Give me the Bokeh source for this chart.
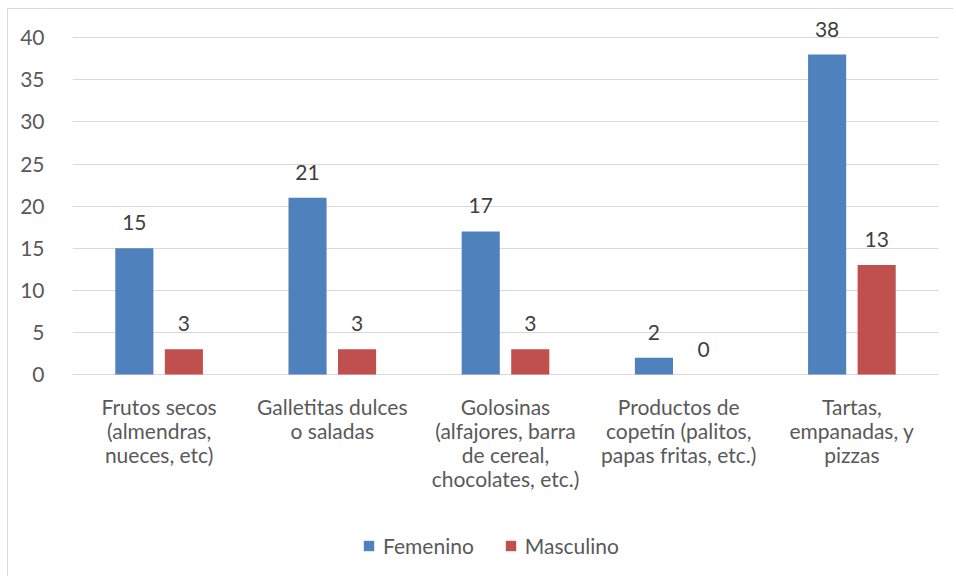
from bokeh.plotting import figure
from bokeh.models import ColumnDataSource, FactorRange, Legend, LegendItem, LabelSet
from bokeh.core.properties import value
from bokeh.transform import dodge
from bokeh.embed import file_html
from bokeh.resources import INLINE

categories = [
    "Frutos secos\n(almendras,\nnueces, etc)",
    "Galletitas dulces\no saladas",
    "Golosinas\n(alfajores, barra\nde cereal,\nchocolates, etc.)",
    "Productos de\ncopetín (palitos,\npapas fritas, etc.)",
    "Tartas,\nempanadas, y\npizzas",
]
femenino = [15, 21, 17, 2, 38]
masculino = [3, 3, 3, 0, 13]
series_names = ["Femenino", "Masculino"]
y_ticks = [0, 5, 10, 15, 20, 25, 30, 35, 40]

FONT = "Lato"
FS = "21px"
BLUE = "#4F81BD"
RED = "#C0504D"
LINE_STEP = 24

src = ColumnDataSource(dict(cat=categories, fem=femenino, mas=masculino,
                            fem_t=[str(v) for v in femenino],
                            mas_t=[str(v) for v in masculino]))

# one row per label line so every line is centred under its category
lc, lt, lo = [], [], []
for c in categories:
    for i, line in enumerate(c.split("\n")):
        lc.append(c)
        lt.append(line)
        lo.append(-19 - LINE_STEP * i)
lines_src = ColumnDataSource(dict(cat=lc, txt=lt, off=lo, zero=[0] * len(lc)))

p = figure(x_range=FactorRange(*categories, range_padding=0), y_range=(-23.04, 43),
           width=946, height=568, output_backend="svg", toolbar_location=None,
           min_border_left=64, min_border_right=16, min_border_top=3, min_border_bottom=9)
p.styles = {"margin-left": "7px", "margin-top": "8px",
            "border-left": "1px solid #d9d9d9", "border-top": "1px solid #d9d9d9"}
p.outline_line_color = None

r1 = p.vbar(x=dodge("cat", -0.143, range=p.x_range), top="fem", width=0.22, source=src,
            fill_color=BLUE, line_color=None)
r2 = p.vbar(x=dodge("cat", 0.143, range=p.x_range), top="mas", width=0.22, source=src,
            fill_color=RED, line_color=None)

for col, off in (("fem", -0.143), ("mas", 0.143)):
    p.add_layout(LabelSet(x=dodge("cat", off, range=p.x_range), y=col, text=col + "_t",
                          source=src, y_offset=18, text_align="center",
                          text_baseline="bottom", text_font=value(FONT), text_font_size=FS,
                          text_color="#404040"))

p.add_layout(LabelSet(x="cat", y="zero", text="txt", source=lines_src, y_offset="off",
                      text_align="center", text_baseline="top",
                      text_font=value(FONT), text_font_size=FS, text_color="#595959"))

p.yaxis.ticker = y_ticks
p.yaxis.axis_line_color = None
p.yaxis.major_tick_line_color = None
p.yaxis.minor_tick_line_color = None
p.yaxis.major_label_text_font = FONT
p.yaxis.major_label_text_font_size = FS
p.yaxis.major_label_text_color = "#595959"
p.yaxis.major_label_standoff = 22

p.xaxis.visible = False
p.xgrid.grid_line_color = None
p.ygrid.grid_line_color = "#d9d9d9"

legend = Legend(items=[LegendItem(label=series_names[0], renderers=[r1]),
                       LegendItem(label=series_names[1], renderers=[r2])],
                location=(290, 10), orientation="horizontal",
                padding=0, margin=0, spacing=30, label_standoff=8,
                glyph_width=13, glyph_height=13,
                label_text_font=FONT, label_text_font_size=FS,
                label_text_color="#595959", border_line_color=None,
                background_fill_alpha=0)
p.add_layout(legend, "center")

open("out.html", "w").write(file_html(p, INLINE))
